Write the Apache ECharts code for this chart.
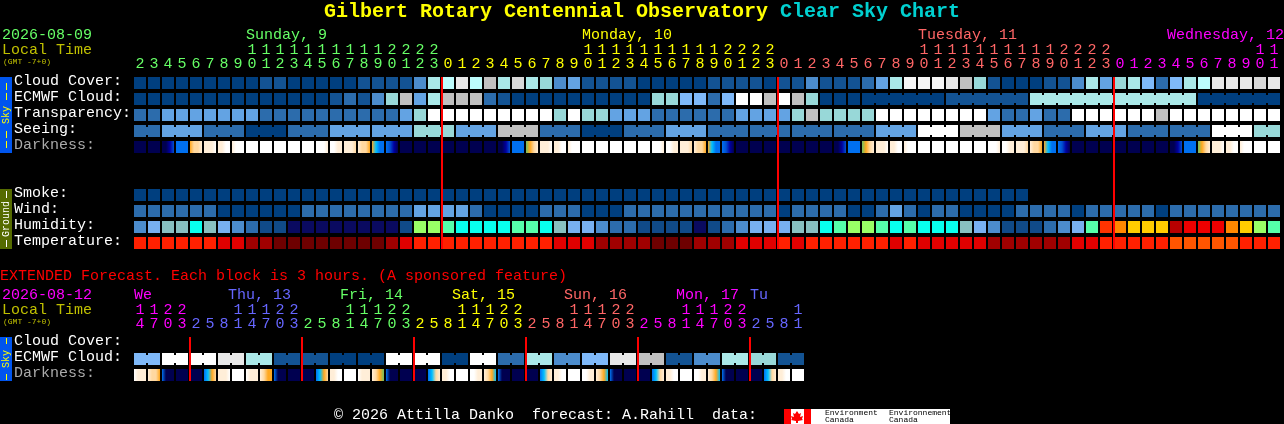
<!DOCTYPE html>
<html><head><meta charset="utf-8">
<style>html,body{margin:0;padding:0;background:#000}#c{width:1284px;height:424px}</style>
<script src="https://cdn.jsdelivr.net/npm/echarts@6/dist/echarts.min.js"></script>
</head><body><div id="c"></div>
<script>
const FONT = '"Liberation Mono", monospace';
const hours = [2,3,4,5,6,7,8,9,10,11,12,13,14,15,16,17,18,19,20,21,22,23,
 0,1,2,3,4,5,6,7,8,9,10,11,12,13,14,15,16,17,18,19,20,21,22,23,
 0,1,2,3,4,5,6,7,8,9,10,11,12,13,14,15,16,17,18,19,20,21,22,23,
 0,1,2,3,4,5,6,7,8,9,10,11];
const extHours = [14,17,20,23, 2,5,8,11,14,17,20,23, 2,5,8,11,14,17,20,23, 2,5,8,11,14,17,20,23,
 2,5,8,11,14,17,20,23, 2,5,8,11,14,17,20,23, 2,5,8,11];
const rowNames = ['Cloud Cover:','ECMWF Cloud:','Transparency:','Seeing:','Darkness:','','','Smoke:','Wind:','Humidity:','Temperature:'];
const extRowNames = ['Cloud Cover:','ECMWF Cloud:','Darkness:'];
const midnights = [22,46,70];
const extMidnights = [4,12,20,28,36,44];
const dayNames = ['Sunday, 9','Monday, 10','Tuesday, 11','Wednesday, 12'];
const dayCols = [8,32,56,74];
const dayFirstCol = [0,22,46,70];
const dayColors = ['#66ff66','#ffff00','#ff6666','#ff00ff'];
const extDayNames = ['We','Thu, 13','Fri, 14','Sat, 15','Sun, 16','Mon, 17','Tu'];
const extDayCols = [0,7,15,23,31,39,44];
const extDayNudge = [0,-4,-4,-4,-4,-4,0];
const extDayFirstCol = [0,4,12,20,28,36,44];
const extDayColors = ['#ff00ff','#6666ff','#66ff66','#ffff00','#ff6666','#ff00ff','#6666ff'];

const skyPalette = ['#003f7f','#135393','#2c6cac','#4c8ccc','#63a3e3','#7fb9f9','#98d8d8','#aae8e8','#bcfcfc','#c0c0c0','#d8d8d8','#e8e8e8','#f6f6f6','#ffffff'];
const humidityPalette = ['#0a0a60','#104a88','#2c6cac','#4c8ccc','#78b0f0','#88c0c0','#08ffee','#55ffaa','#99ff66','#ffcc00','#ff8800','#ff3300','#ee0000','#b80000'];
const tempPalette = ['#6e0000','#a00000','#e00000','#ff2000','#ff5500'];
const darkPalette = ['#000050','#0000a0','#0050d0','#0070f0','#00c0ff','#70c060','#ffa820','#ffd8a0','#ffeed8','#ffffff'];

const cloudCover = [0,0,0,0,0,0,0,0,0,1, 1,0,0,0,0,0,1,1,1,1, 3,7,8,11,8,9,7,10,7,6, 3,4,1,1,1,1,0,0,0,0,
 0,1,1,1,1,0,1,1,3,1, 1,1,2,4,7,12,12,12,11,9, 6,1,0,0,0,1,1,3,7,4, 6,7,5,2,5,7,8,11,11,11, 10,11];
const ecmwf = [0,0,0,0,0,0,0,0,0,0, 0,0,0,0,1,2,1,3,6,9, 4,7,9,9,9,2,1,0,0,0, 0,0,0,0,0,0,0,6,6,5,
 5,2,5,13,13,9,13,9,6,0, 0,0,0,0,0,0,0,0,1,1, 1,1,1,1,7,7,7,7,7,7, 7,7,7,7,7,7,0,0,0,0, 0,0];
const transparency = [2,2,4,4,4,4,4,4,4,2, 2,2,2,2,2,2,2,2,2,4, 6,13,13,13,13,13,13,13,13,13, 6,13,6,6,4,4,4,2,2,2,
 2,2,2,4,4,4,4,6,9,6, 6,6,6,13,13,13,13,13,13,13, 13,4,2,2,4,2,2,13,13,13, 13,13,13,9,13,13,13,13,13,13, 13,13];
const seeing = [2,2,4,4,4,2,2,2,0,0, 0,2,2,2,4,4,4,4,4,4, 6,6,6,4,4,4,9,9,9,2, 2,2,0,0,0,2,2,2,4,4,
 4,2,2,2,2,2,2,2,2,2, 2,2,2,4,4,4,13,13,13,9, 9,9,4,4,4,2,2,2,4,4, 4,2,2,2,2,2,2,13,13,13, 6,6];
const darkness = ['0000','0000','0012','3333','6778','8889','8899','8999','9999','9999',
 '9999','9999','9999','9998','9988','8887','8776','6433','3210','0000',
 '0000','0000','0000','0000','0000','0000','0012','3333','5678','8889',
 '8899','8999','9999','9999','9999','9999','9999','9998','9988','8887',
 '8776','6433','3210','0000','0000','0000','0000','0000','0000','0000',
 '0012','3333','5678','8889','8899','8999','9999','9999','9999','9999',
 '9999','9998','9988','8887','8776','6433','3210','0000','0000','0000',
 '0000','0000','0000','0000','0012','3333','5678','8889','8899','8999',
 '9999','9999'];
const smoke = [0,0,0,0,0,0,0,0,0,0, 0,0,0,0,0,0,0,0,0,0, 0,0,0,0,0,0,0,0,0,0, 0,0,0,0,0,0,0,0,0,0,
 0,0,0,0,0,0,0,0,0,0, 0,0,0,0,0,0,0,0,0,0, 0,0,0,0];
const wind = [2,2,2,2,2,2,0,0,0,0, 0,0,2,2,2,2,2,2,2,2, 4,4,4,4,2,0,0,0,0,2, 2,2,0,0,0,2,2,2,2,2,
 2,2,2,2,2,2,0,2,2,2, 2,0,0,2,4,2,0,2,2,0, 0,0,0,2,2,2,2,0,2,2, 2,2,2,0,2,2,2,2,2,2, 2,2];
const humidity = [3,4,5,5,6,5,4,3,2,1, 1,0,0,0,0,0,0,0,0,1, 8,8,7,6,6,6,6,7,7,6, 5,4,4,3,2,2,1,1,1,1,
 0,1,2,3,4,4,4,5,5,6, 7,8,8,7,6,7,6,6,6,5, 4,3,1,1,1,2,3,4,7,11, 10,9,9,9,13,12,12,12,10,9, 8,7];
const temperature = [3,3,3,3,3,3,2,2,1,1, 0,0,0,0,0,0,0,0,1,2, 3,3,3,3,3,3,3,3,3,3, 2,2,2,1,1,1,1,0,0,0,
 1,1,1,2,2,2,3,2,3,3, 3,3,3,3,2,3,2,2,2,2, 2,1,1,1,1,1,1,2,2,3, 3,3,3,3,4,4,4,4,4,3, 3,3];
const extEcmwf = [5,5,13,13,13,13,11,11,7,7,1,1,1,1,0,0,0,0,13,13,13,13,0,0,13,13,2,2,7,7,3,3,5,5,11,11,9,9,1,1,3,3,7,7,6,6,1,1];
const extDarkness = ['9888','8776','3000','0000','0000','3467','8889','9999',
 '9888','8766','3000','0000','0000','3467','8899','9999',
 '9888','8765','3000','0000','0000','3478','8899','9999',
 '9988','8764','3000','0000','0000','3478','8899','9999',
 '9988','8764','3000','0000','0000','3478','8899','9999',
 '9988','8764','3000','0000','0000','3478','8899','9999'];

function dayIndex(i, firsts){ let d=0; firsts.forEach((f,k)=>{ if(i>=f) d=k; }); return d; }
function hourLabel(h){ return h>=10 ? Math.floor(h/10)+'\n'+(h%10) : '\u00a0\n'+h; }

function solidCells(row, values, palette, mergesNext){
  return values.map((v,c)=>[c,row,palette[v],mergesNext?(mergesNext(c,v,values)?1:0):0,'']);
}
function darkCells(row, values){
  return values.map((s,c)=>[c,row,'',0,s]);
}
const mainCells = [].concat(
  solidCells(0,cloudCover,skyPalette),
  solidCells(1,ecmwf,skyPalette,(c,v,a)=>c>=52 && a[c+1]===v),
  solidCells(2,transparency,skyPalette),
  solidCells(3,seeing,skyPalette,(c,v,a)=>c%3!==1 && c<81),
  darkCells(4,darkness),
  solidCells(7,smoke,skyPalette),
  solidCells(8,wind,skyPalette),
  solidCells(9,humidity,humidityPalette),
  solidCells(10,temperature,tempPalette));
const extCells = [].concat(
  solidCells(1,extEcmwf,skyPalette,(c)=>c%2===0),
  darkCells(2,extDarkness));

function renderCell(params, api){
  const c=api.coord([api.value(0),api.value(1)]);
  const s=api.size([1,1]);
  const w=s[0]-2,h=s[1]-4;
  const x=c[0]-w/2,y=c[1]-h/2;
  const item=params.context.cells[params.dataIndex];
  let fill=item[2];
  if(item[4]){
    const str=item[4];
    fill=new echarts.graphic.LinearGradient(0,0,1,0,str.split('').map((d,i)=>({offset:i/(str.length-1),color:darkPalette[+d]})));
  }
  const kids=[{type:'rect',shape:{x:x,y:y,width:w,height:h},style:{fill:fill}}];
  if(item[3]) kids.push({type:'rect',shape:{x:x+w,y:y+2,width:2,height:h-4},style:{fill:fill}});
  return {type:'group',children:kids};
}
function cellSeries(idx,cells){
  return {type:'custom',xAxisIndex:idx,yAxisIndex:idx,data:cells.map(d=>[d[0],d[1]]),encode:{x:0,y:1},clip:false,silent:true,z:2,
    renderItem:function(p,api){ p.context.cells=cells; return renderCell(p,api); }};
}
function lineSeries(idx,cols,lastRow){
  return {type:'custom',xAxisIndex:idx,yAxisIndex:idx,data:cols.map(c=>[c,0]),encode:{x:0,y:1},clip:false,silent:true,z:10,
    renderItem:function(p,api){
      const s=api.size([1,1]);
      const top=api.coord([api.value(0),0]);
      const bot=api.coord([api.value(0),lastRow]);
      return {type:'rect',z2:100,shape:{x:top[0]-s[0]/2,y:top[1]-s[1]/2+2,width:2,height:bot[1]-top[1]+s[1]-4},style:{fill:'#ff0000'}};
    }};
}
function dayLabelSeries(idx,names,cols,colors,nudge){
  return {type:'custom',xAxisIndex:idx,yAxisIndex:idx,data:cols.map(c=>[c,0]),encode:{x:0,y:1},clip:false,silent:true,z:4,
    renderItem:function(p,api){
      const i=p.dataIndex,c=api.coord([api.value(0),0]),s=api.size([1,1]);
      let x=c[0]-s[0]/2+1+(nudge?nudge[i]:0);
      const w=names[i].length*9;
      if(x+w>1284) x=1284-w;
      return {type:'text',x:x,y:c[1]-48,style:{text:names[i],fill:colors[i],font:'15px '+FONT,verticalAlign:'middle'}};
    }};
}
function xAx(idx,data,firsts,colors){
  return {type:'category',gridIndex:idx,position:'top',data:data.map(String),boundaryGap:true,
    axisLine:{show:false},axisTick:{show:false},splitLine:{show:false},
    axisLabel:{interval:0,hideOverlap:false,margin:4,fontFamily:FONT,fontSize:15,lineHeight:14,verticalAlign:'bottom',
      formatter:(v,i)=>hourLabel(data[i]),color:(v,i)=>colors[dayIndex(i,firsts)]}};
}
function yAx(idx,names){
  return {type:'category',gridIndex:idx,inverse:true,data:names,boundaryGap:true,
    axisLine:{show:false},axisTick:{show:false},splitLine:{show:false},
    axisLabel:{interval:0,hideOverlap:false,align:'left',margin:119,fontFamily:FONT,fontSize:15,verticalAlign:'bottom',lineHeight:4,
      color:(v)=>v==='Darkness:'?'#aaaaaa':'#ffffff'}};
}
function txt(x,y,text,fill,size,weight){
  return {type:'text',x:x,y:y,silent:true,style:{text:text,fill:fill,font:(weight?weight+' ':'')+size+'px '+FONT,verticalAlign:'middle'}};
}
function bar(x,y,w,h,fill){ return {type:'rect',silent:true,shape:{x:x,y:y,width:w,height:h},style:{fill:fill}}; }
function side(y,h,fill,color,text,dashes){
  return [bar(0,y,12,h,fill),{type:'text',x:6,y:y+h/2,rotation:Math.PI/2,silent:true,
    style:{text:text,fill:color,font:'10px '+FONT,textAlign:'center',verticalAlign:'middle'}}]
    .concat(dashes.map(d=>bar(6,d[0],1,d[1],color)));
}
const leaf=[[797,411],[799,414],[801,413],[800,417],[803,416],[802,419],[803,420],[798,421],[798,423],[796,423],[796,421],[791,420],[792,419],[791,416],[794,417],[793,413],[795,414]];
const graphics=[
  txt(324,12,'Gilbert Rotary Centennial Observatory','#ffff00',20,'bold'),
  txt(780,12,'Clear Sky Chart','#00d0d0',20,'bold'),
  txt(2,35,'2026-08-09','#66ff66',15),
  txt(2,50,'Local Time','#c0c000',15),
  txt(3,62,'(GMT -7+0)','#c0c000',8),
  txt(0,276,'EXTENDED Forecast. Each block is 3 hours. (A sponsored feature)','#ff0000',15),
  txt(2,295,'2026-08-12','#ff00ff',15),
  txt(2,310,'Local Time','#c0c000',15),
  txt(3,322,'(GMT -7+0)','#c0c000',8),
  ...side(77,76,'#0055ee','#ffff00','Sky',[[83,7],[93,7],[131,7],[141,7]]),
  ...side(189,60,'#556b00','#ffffff','Ground',[[191,7],[240,7]]),
  ...side(337,44,'#0055ee','#ffff00','Sky',[[338,6],[374,6]]),
  txt(334,415,'\u00a9 2026 Attilla Danko  forecast: A.Rahill  data:','#ffffff',15),
  bar(784,409,166,15,'#ffffff'),
  bar(784,409,7,15,'#ff0000'),
  bar(804,409,7,15,'#ff0000'),
  {type:'polygon',silent:true,shape:{points:leaf},style:{fill:'#ff0000'}},
  txt(825,413,'Environment','#000000',8),
  txt(825,420,'Canada','#000000',8),
  txt(889,413,'Environnement','#000000',8),
  txt(889,420,'Canada','#000000',8)
];
const chart=echarts.init(document.getElementById('c'),null,{renderer:'canvas'});
chart.setOption({
  animation:false,backgroundColor:'#000000',
  grid:[
    {left:133,top:75,width:1148,height:176,containLabel:false},
    {left:133,top:335,width:672,height:48,containLabel:false}
  ],
  xAxis:[xAx(0,hours,dayFirstCol,dayColors),xAx(1,extHours,extDayFirstCol,extDayColors)],
  yAxis:[yAx(0,rowNames),yAx(1,extRowNames)],
  series:[
    cellSeries(0,mainCells),
    lineSeries(0,midnights,10),
    dayLabelSeries(0,dayNames,dayCols,dayColors),
    cellSeries(1,extCells),
    lineSeries(1,extMidnights,2),
    dayLabelSeries(1,extDayNames,extDayCols,extDayColors,extDayNudge)
  ],
  graphic:{elements:graphics}
});
</script></body></html>
